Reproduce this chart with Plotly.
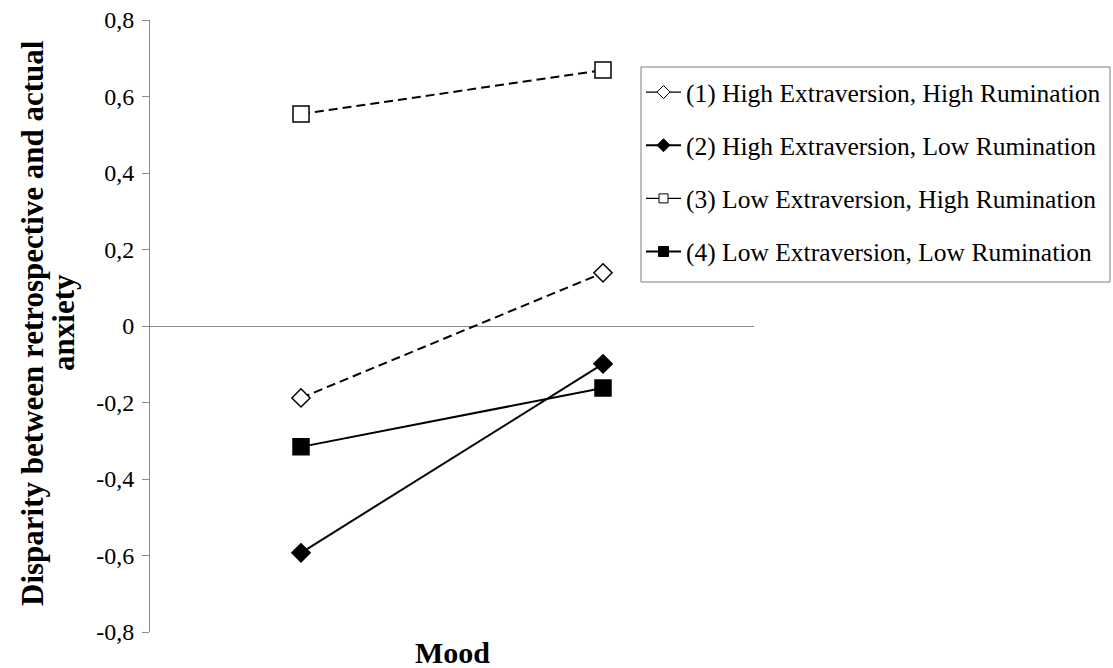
import plotly.graph_objects as go

# Mood levels on the x axis (labels are not shown on the axis)
mood = ["Low", "High"]

# Disparity between retrospective and actual anxiety for each group
series_names = [
    "(1) High Extraversion, High Rumination",
    "(2) High Extraversion, Low Rumination",
    "(3) Low Extraversion, High Rumination",
    "(4) Low Extraversion, Low Rumination",
]
hi_ext_hi_rum = [-0.188, 0.139]
hi_ext_lo_rum = [-0.593, -0.099]
lo_ext_hi_rum = [0.554, 0.669]
lo_ext_lo_rum = [-0.316, -0.162]

y_tick_vals = [-0.8, -0.6, -0.4, -0.2, 0, 0.2, 0.4, 0.6, 0.8]
y_tick_text = ["-0,8", "-0,6", "-0,4", "-0,2", "0", "0,2", "0,4", "0,6", "0,8"]

y_title_lines = ["Disparity between retrospective and actual", "anxiety"]
x_title = "Mood"

SERIF = "Liberation Serif, Times New Roman, serif"

W, H = 1113, 668
ML, MR, MT, MB = 150, 359, 20, 36
PW, PH = W - ML - MR, H - MT - MB


def px_x(px):
    """Horizontal pixel position -> paper fraction."""
    return (px - ML) / PW


def px_y(py):
    """Vertical pixel position (from top) -> paper fraction."""
    return (H - MB - py) / PH


styles = [
    dict(symbol="diamond", fill="white", dash="9px,5px", size=14, lsize=10, lw=1.2),
    dict(symbol="diamond", fill="black", dash="solid", size=14, lsize=10, lw=2),
    dict(symbol="square", fill="white", dash="9px,5px", size=16, lsize=9, lw=1.2),
    dict(symbol="square", fill="black", dash="solid", size=16, lsize=10, lw=2),
]
values = [hi_ext_hi_rum, hi_ext_lo_rum, lo_ext_hi_rum, lo_ext_lo_rum]

fig = go.Figure()
for name, vals, st in zip(series_names, values, styles):
    fig.add_trace(go.Scatter(
        x=mood, y=vals, mode="lines+markers", showlegend=False, name=name,
        line=dict(color="black", width=2, dash=st["dash"]),
        marker=dict(symbol=st["symbol"], size=st["size"], color=st["fill"],
                    line=dict(color="black", width=1.5)),
    ))

# Compact legend keys: short solid line with a small marker
for i, (name, st) in enumerate(zip(series_names, styles)):
    fig.add_trace(go.Scatter(
        x=[None], y=[None], mode="lines+markers", name=name,
        legendgroup=f"g{i}",
        line=dict(color="black", width=st["lw"]),
        marker=dict(symbol=st["symbol"], size=st["lsize"], color=st["fill"],
                    line=dict(color="black", width=1)),
    ))

# Legend frame
fig.add_shape(
    type="rect", xref="paper", yref="paper",
    x0=px_x(641), x1=px_x(1110), y0=px_y(282), y1=px_y(67),
    line=dict(color="#7f7f7f", width=1), fillcolor="white", layer="above",
)

# Two-line bold y-axis title with tight line spacing
for text, xs in zip(y_title_lines, [-117, -86]):
    fig.add_annotation(
        text=f"<b>{text}</b>", textangle=-90, showarrow=False,
        xref="paper", yref="paper", x=0, y=0.505, xshift=xs,
        xanchor="center", yanchor="middle",
        font=dict(family=SERIF, size=31, color="black"),
    )

fig.add_annotation(
    text=f"<b>{x_title}</b>", showarrow=False,
    xref="paper", yref="paper", x=0.5, y=0, yshift=-20,
    xanchor="center", yanchor="middle",
    font=dict(family=SERIF, size=30, color="black"),
)

fig.update_layout(
    width=W, height=H,
    margin=dict(l=ML, r=MR, t=MT, b=MB, autoexpand=False),
    paper_bgcolor="white", plot_bgcolor="white",
    font=dict(family=SERIF, color="black", size=24),
    showlegend=True,
    legend=dict(
        x=px_x(641), y=px_y(69), xanchor="left", yanchor="top",
        bgcolor="rgba(0,0,0,0)", borderwidth=0,
        font=dict(family=SERIF, size=25.5, color="black"),
        traceorder="grouped", tracegroupgap=17, itemwidth=35,
        itemsizing="trace",
    ),
    xaxis=dict(
        type="category", range=[-0.5, 1.5], automargin=False,
        showticklabels=False, ticks="", showline=False, showgrid=False,
        zeroline=False,
    ),
    yaxis=dict(
        range=[-0.8, 0.8], tickvals=y_tick_vals, ticktext=y_tick_text,
        automargin=False,
        showline=True, linecolor="#8c8c8c", linewidth=1,
        ticks="outside", ticklen=7, tickcolor="#8c8c8c", ticklabelstandoff=3,
        showgrid=False, zeroline=True, zerolinecolor="#8c8c8c", zerolinewidth=1,
        tickfont=dict(family=SERIF, size=24),
    ),
)

fig.write_html("out.html")
